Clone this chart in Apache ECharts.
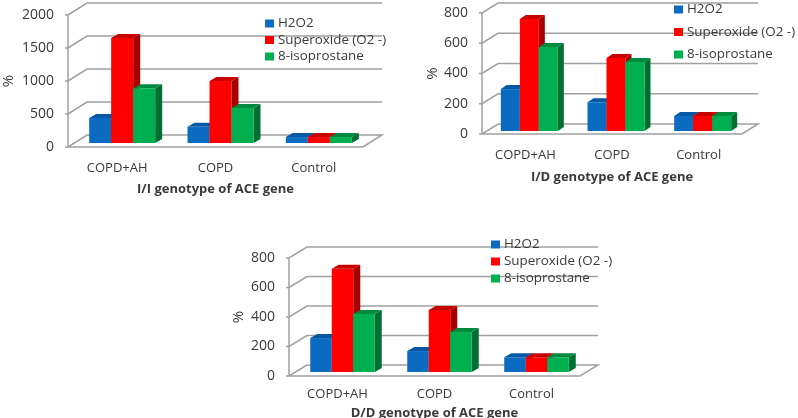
<!DOCTYPE html>
<html><head><meta charset="utf-8">
<style>html,body{margin:0;padding:0;background:#fff}#c{width:798px;height:418px;filter:blur(0.5px)}</style>
<script src="https://cdn.jsdelivr.net/npm/echarts@6/dist/echarts.min.js"></script>
</head><body><div id="c"></div>
<script>
const categories = ['COPD+AH', 'COPD', 'Control'];
const seriesNames = ['H2O2', 'Superoxide (O2 -)', '8-isoprostane'];
const iiH2O2 = [380, 245, 90];
const iiSuperoxide = [1590, 940, 90];
const iiIsoprostane = [830, 530, 90];
const idH2O2 = [277, 190, 100];
const idSuperoxide = [740, 483, 100];
const idIsoprostane = [555, 457, 100];
const ddH2O2 = [230, 142, 100];
const ddSuperoxide = [700, 420, 100];
const ddIsoprostane = [393, 271, 100];
const iiTicks = [0, 500, 1000, 1500, 2000];
const idTicks = [0, 200, 400, 600, 800];
const ddTicks = [0, 200, 400, 600, 800];
const titles = ['I/I genotype of ACE gene', 'I/D genotype of ACE gene', 'D/D genotype of ACE gene'];

const palette = [
  {front:'#0a6bc0', side:'#06478a', top:'#0758a4'},
  {front:'#fe0000', side:'#a80000', top:'#c80000'},
  {front:'#00b050', side:'#006f32', top:'#008a3e'}
];
const F = '"Open Sans", sans-serif', TXT = '#3a3a3a', LINE = '#a0a0a0';
const panels = [
  {left:68, right:363, top:15, bottom:147, dx:19, dy:-12, bx:5, by:-4, sx:7, sy:4, bw:22, max:2000, interval:500, ticks:iiTicks, vals:[iiH2O2,iiSuperoxide,iiIsoprostane], legX:265, legY:17, legGap:3.5, catM:15, nameGap:36, yGap:52},
  {left:482, right:742, top:13, bottom:134, dx:16, dy:-10, bx:4, by:-3, sx:6, sy:4, bw:19, max:800, interval:200, ticks:idTicks, vals:[idH2O2,idSuperoxide,idIsoprostane], legX:674, legY:3, legGap:9.5, catM:15, nameGap:37, yGap:42},
  {left:289, right:580, top:258, bottom:376, dx:18, dy:-11, bx:5, by:-4, sx:7, sy:4, bw:21.5, max:800, interval:200, ticks:ddTicks, vals:[ddH2O2,ddSuperoxide,ddIsoprostane], legX:491, legY:238, legGap:4, catM:12, nameGap:31, yGap:43}
];

const grid=[], xAxis=[], yAxis=[], series=[], legend=[];
panels.forEach((p,i)=>{
  grid.push({left:p.left, top:p.top, width:p.right-p.left, height:p.bottom-p.top, containLabel:false, outerBoundsMode:'none'});
  xAxis.push({gridIndex:i, type:'category', data:categories, name:titles[i], nameLocation:'middle', nameGap:p.nameGap,
    nameTextStyle:{fontFamily:F, fontWeight:'bold', fontSize:13, color:TXT},
    axisLine:{show:false}, axisTick:{show:false}, splitLine:{show:false},
    axisLabel:{fontFamily:F, fontSize:13, color:TXT, margin:p.catM, interval:0}});
  yAxis.push({gridIndex:i, type:'value', min:0, max:p.max, interval:p.interval, name:'%', nameLocation:'middle', nameGap:p.yGap, nameRotate:90,
    nameTextStyle:{fontFamily:F, fontSize:15, color:TXT},
    axisLine:{show:false}, axisTick:{show:false}, splitLine:{show:false},
    axisLabel:{fontFamily:F, fontSize:14, color:TXT, margin:14, formatter:v=>String(v)}});
  legend.push({orient:'vertical', left:p.legX, top:p.legY, data:seriesNames, icon:'rect', itemWidth:9, itemHeight:8, itemGap:p.legGap, selectedMode:false, z:20,
    textStyle:{fontFamily:F, fontSize:13.4, color:TXT, padding:[0,0,0,-1]}, padding:0});
  // back wall grid lines and axis tick marks, built from tick values
  series.push({type:'custom', coordinateSystem:'cartesian2d', xAxisIndex:i, yAxisIndex:i, silent:true, z:1, legendHoverLink:false,
    data:p.ticks.map(t=>[0,t]),
    renderItem:(params,api)=>{
      const y=api.coord([0,api.value(1)])[1];
      const pts=[[p.left-3,y],[p.left,y],[p.left+p.dx,y+p.dy],[p.right+p.dx,y+p.dy]];
      if(api.value(1)===0) pts.push([p.right,y],[p.left,y]);
      return {type:'polyline', shape:{points:pts}, style:{fill:null, stroke:LINE, lineWidth:1.5}};
    }});
  // front-left vertical axis edge
  series.push({type:'custom', coordinateSystem:'cartesian2d', xAxisIndex:i, yAxisIndex:i, silent:true, z:1, data:[[0,p.max]],
    renderItem:(params,api)=>{
      const a=api.coord([0,0])[1], b=api.coord([0,p.max])[1];
      return {type:'line', shape:{x1:p.left,y1:a,x2:p.left,y2:b}, style:{stroke:LINE, lineWidth:1.5}};
    }});
  seriesNames.forEach((name,s)=>{
    series.push({name, type:'custom', coordinateSystem:'cartesian2d', xAxisIndex:i, yAxisIndex:i, z:5+s,
      itemStyle:{color:palette[s].front},
      data:p.vals[s].map((v,c)=>[c,v]),
      encode:{x:0,y:1},
      renderItem:(params,api)=>{
        const top=api.coord([api.value(0),api.value(1)]), base=api.coord([api.value(0),0]);
        const x=top[0]+p.bx+(s-1.5)*p.bw, x2=x+p.bw, yt=top[1]+p.by, yb=base[1]+p.by;
        const c=palette[s];
        return {type:'group', children:[
          {type:'polygon', shape:{points:[[x2,yt],[x2+p.sx,yt-p.sy],[x2+p.sx,yb-p.sy],[x2,yb]]}, style:{fill:c.side}},
          {type:'polygon', shape:{points:[[x,yt],[x+p.sx,yt-p.sy],[x2+p.sx,yt-p.sy],[x2,yt]]}, style:{fill:c.top}},
          {type:'rect', shape:{x:x,y:yt,width:p.bw,height:yb-yt}, style:{fill:c.front}}
        ]};
      }});
  });
});
const chart=echarts.init(document.getElementById('c'),null,{renderer:'canvas'});
chart.setOption({animation:false, backgroundColor:'#fff', grid, xAxis, yAxis, series, legend});
</script></body></html>
